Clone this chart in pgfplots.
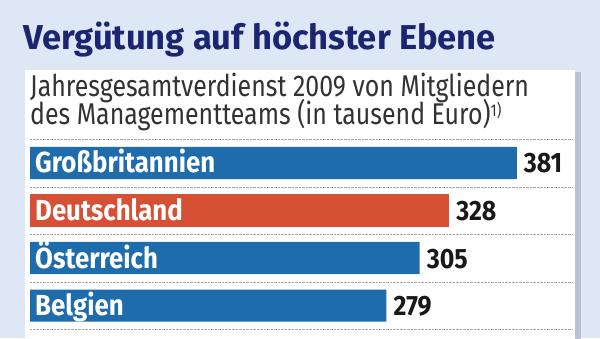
\documentclass[border=0pt]{standalone}
\usepackage{pgfplots}
\pgfplotsset{compat=1.18}
\usepackage{fontspec}
\setmainfont{Fira Sans}[FakeStretch=0.83]
\newfontfamily\titlefont{Fira Sans}[FakeStretch=1.0]
\newfontfamily\labfont{Fira Sans}[FakeStretch=0.89]
\definecolor{bg}{RGB}{221,231,246}
\definecolor{navy}{RGB}{28,38,112}
\definecolor{subt}{RGB}{50,50,50}
\definecolor{barblue}{RGB}{30,108,172}
\definecolor{barred}{RGB}{214,80,54}
\definecolor{valtxt}{RGB}{25,25,25}
\begin{document}
\begin{tikzpicture}[x=1pt,y=1pt]
\fill[bg] (0,0) rectangle (600,338);
\fill[black!16!bg] (27,-5) rectangle (581,266);
\fill[white] (25,-5) rectangle (575,268);
\node[anchor=base west, inner sep=0, text=navy, font=\titlefont\bfseries\fontsize{34.5}{40}\selectfont] at (23,288) {Vergütung auf höchster Ebene};
\node[anchor=base west, inner sep=0, text=subt, font=\fontsize{30}{30}\selectfont] at (30,241) {Jahresgesamtverdienst 2009 von Mitgliedern};
\node[anchor=base west, inner sep=0, text=subt, font=\fontsize{30}{30}\selectfont] at (30,213) {des Managementteams (in tausend Euro)\raisebox{9pt}{\fontsize{17}{17}\selectfont 1)}};
\begin{axis}[
  at={(30pt,0pt)}, anchor=south west,
  scale only axis, width=543pt, height=200pt,
  xbar, bar width=0.674, bar shift=0pt,
  y dir=reverse,
  xmin=0, xmax=425, ymin=-0.526, ymax=3.684,
  axis line style={draw=none},
  xtick=\empty,
  ytick={0,1,2,3},
  yticklabels={Großbritannien,Deutschland,Österreich,Belgien},
  major tick length=0pt,
  yticklabel style={anchor=base west, inner sep=0pt, xshift=5pt, yshift=-10pt, text=white, font=\labfont\bfseries\fontsize{29}{30}\selectfont},
  extra y ticks={-0.49,0.51,1.51,2.51,3.51},
  extra y tick labels={},
  extra y tick style={ymajorgrids=true, major grid style={gray!70, densely dotted, line width=0.8pt}},
  nodes near coords,
  nodes near coords align={horizontal},
  /pgf/number format/assume math mode=true,
  every node near coord/.append style={anchor=base west, inner sep=0pt, xshift=7pt, yshift=-10pt, text=valtxt, font=\labfont\bfseries\fontsize{28}{30}\selectfont},
  axis on top,
  clip=false,
]
\addplot[fill=barblue, draw=none] coordinates {(381,0) (305,2) (279,3)};
\addplot[fill=barred, draw=none] coordinates {(328,1)};
\end{axis}
\pgfresetboundingbox
\useasboundingbox (0,0) rectangle (600,338);
\end{tikzpicture}
\end{document}
